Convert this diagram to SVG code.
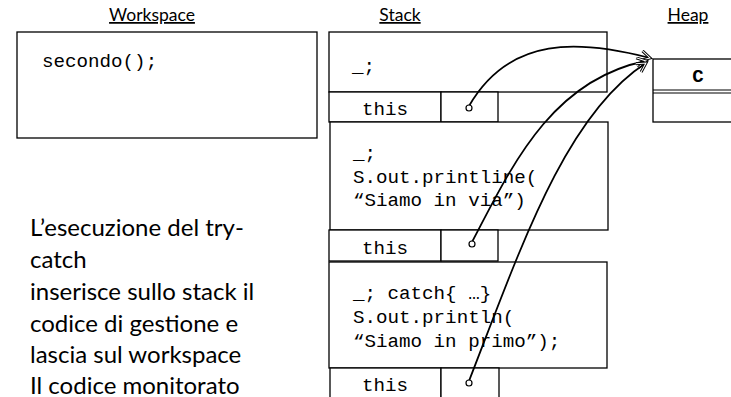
<svg xmlns="http://www.w3.org/2000/svg" width="731" height="397" viewBox="0 0 731 397">
<style>
.box{fill:#fff;stroke:#000;stroke-width:1.3}
.code{font-family:"Liberation Mono","DejaVu Sans Mono",monospace;font-size:19.2px;fill:#000}
.lbl{font-family:Lato,"Liberation Sans",sans-serif;font-size:17.5px;fill:#000;text-anchor:middle;text-decoration:underline}
.note{font-family:Lato,"Liberation Sans",sans-serif;font-size:24px;fill:#000}
.ref{fill:none;stroke:#000;stroke-width:1.8}
.dot{fill:#fff;stroke:#000;stroke-width:1.2}
</style>
<defs>
<marker id="oa" markerWidth="14" markerHeight="14" refX="10" refY="6" orient="auto" markerUnits="userSpaceOnUse">
<path d="M1,1 L10,6 L1,11" fill="none" stroke="#000" stroke-width="3"/>
<path d="M1,1 L10,6 L1,11" fill="none" stroke="#fff" stroke-width="1"/>
</marker>
</defs>
<rect width="731" height="397" fill="#fff"/>
<g id="labels">
<text class="lbl" x="152" y="21">Workspace</text>
<text class="lbl" x="400" y="21">Stack</text>
<text class="lbl" x="688" y="21">Heap</text>
</g>
<g id="workspace">
<rect class="box" x="17" y="32" width="300" height="106"/>
<text class="code" x="42" y="67">secondo();</text>
</g>
<g id="frame1">
<rect class="box" x="329" y="32" width="278" height="60"/>
<text class="code" x="352" y="72">_;</text>
<rect class="box" x="329" y="92" width="112" height="30"/>
<rect class="box" x="441" y="92" width="57" height="30"/>
<text class="code" x="385" y="115" text-anchor="middle">this</text>
</g>
<g id="frame2">
<rect class="box" x="330" y="122" width="278" height="108"/>
<text class="code" x="353" y="159">_;</text>
<text class="code" x="353" y="183">S.out.printline(</text>
<text class="code" x="353" y="206">“Siamo in via”)</text>
<rect class="box" x="329" y="230" width="112" height="31"/>
<rect class="box" x="441" y="230" width="57" height="31"/>
<text class="code" x="385" y="254" text-anchor="middle">this</text>
</g>
<g id="frame3">
<rect class="box" x="329" y="262" width="278" height="106"/>
<text class="code" x="353" y="299">_; catch{ …}</text>
<text class="code" x="353" y="323">S.out.println(</text>
<text class="code" x="353" y="347">“Siamo in primo”);</text>
<rect class="box" x="330" y="368" width="111" height="35"/>
<rect class="box" x="441" y="368" width="58" height="35"/>
<text class="code" x="385" y="391" text-anchor="middle">this</text>
</g>
<g id="heap">
<rect class="box" x="653" y="59" width="90" height="63"/>
<line x1="653" y1="90" x2="731" y2="90" stroke="#000" stroke-width="1.2"/>
<line x1="653" y1="93" x2="731" y2="93" stroke="#000" stroke-width="1.2"/>
<text x="698" y="82" font-family="Liberation Mono,monospace" font-weight="bold" font-size="19" text-anchor="middle">C</text>
</g>
<g id="note">
<text class="note" x="30" y="236">L’esecuzione del try-</text>
<text class="note" x="30" y="268">catch</text>
<text class="note" x="30" y="300">inserisce sullo stack il</text>
<text class="note" x="30" y="332">codice di gestione e</text>
<text class="note" x="30" y="363">lascia sul workspace</text>
<text class="note" x="30" y="394">Il codice monitorato</text>
</g>
<g id="connectors">
<path class="ref" d="M469,106 C510,35 580,40 650,58" marker-end="url(#oa)"/>
<path class="ref" d="M472,242 C510,170 550,80 646,61" marker-end="url(#oa)"/>
<path class="ref" d="M469,381 C520,250 565,115 646,63" marker-end="url(#oa)"/>
<circle class="dot" cx="469" cy="108" r="3"/>
<circle class="dot" cx="472" cy="244" r="3"/>
<circle class="dot" cx="469" cy="383" r="3"/>
</g>
</svg>
